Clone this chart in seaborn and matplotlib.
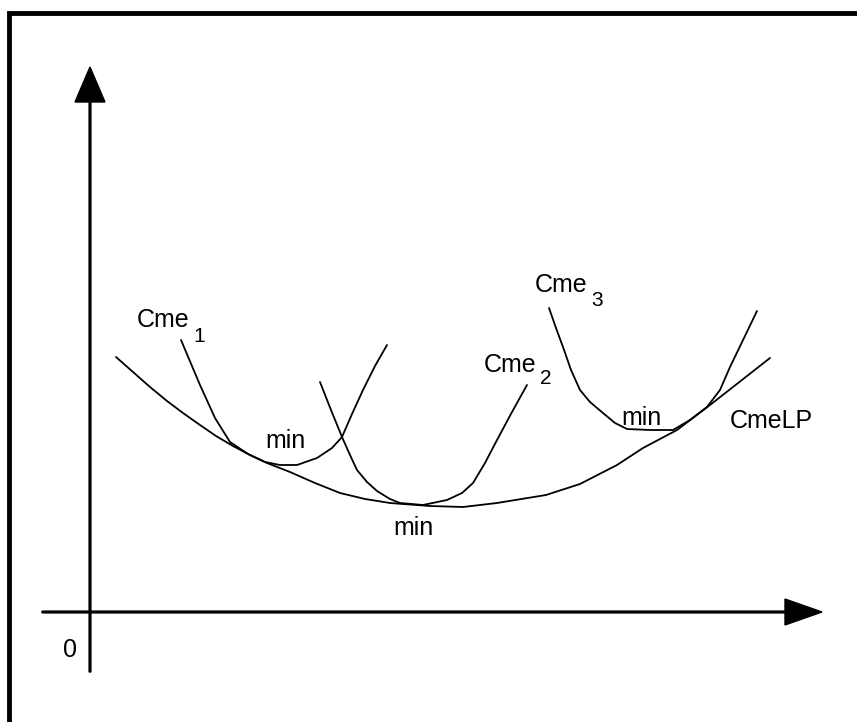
import pandas as pd
import matplotlib
matplotlib.use("Agg")
import matplotlib.pyplot as plt
import seaborn as sns

# long run average cost envelope (CmeLP) and three short run curves
lp_q = [2.6, 6.0, 7.7, 9.3, 11.0, 12.6, 14.3, 16.0, 17.7, 20.0, 22.5, 25.0, 27.5, 30.0, 34.0, 37.3, 40.7, 45.6, 49.0, 52.7, 55.3, 58.7, 62.0, 68.0]
lp_c = [25.5, 22.5, 21.1, 19.9, 18.7, 17.6, 16.6, 15.7, 14.9, 14.0, 12.9, 11.9, 11.3, 10.9, 10.6, 10.5, 10.9, 11.7, 12.8, 14.7, 16.4, 18.2, 20.7, 25.4]

cme1_q = [9.1, 11.0, 12.5, 14.0, 15.8, 17.5, 19.0, 20.7, 22.7, 24.2, 25.2, 26.2, 27.3, 28.5, 29.7]
cme1_c = [27.2, 22.7, 19.4, 17.0, 15.8, 15.0, 14.7, 14.7, 15.4, 16.4, 17.5, 19.8, 22.2, 24.6, 26.7]

cme2_q = [23.0, 24.1, 25.2, 26.0, 26.7, 27.7, 28.7, 30.0, 31.0, 33.3, 35.7, 37.2, 38.3, 39.5, 40.7, 42.2, 43.7]
cme2_c = [23.0, 20.2, 17.5, 15.7, 14.2, 13.0, 12.1, 11.3, 10.9, 10.7, 11.2, 11.9, 12.9, 14.9, 17.2, 20.0, 22.7]

cme3_q = [45.9, 46.6, 47.3, 48.1, 49.0, 50.0, 51.3, 52.5, 53.7, 56.0, 58.3, 60.0, 61.7, 63.0, 64.0, 65.4, 66.7]
cme3_c = [30.4, 28.4, 26.5, 24.2, 22.2, 21.0, 19.9, 18.9, 18.3, 18.2, 18.2, 19.2, 20.5, 22.2, 24.5, 27.4, 30.1]

curve_names = ["CmeLP", "Cme1", "Cme2", "Cme3"]

df = pd.concat([
    pd.DataFrame({"q": lp_q, "c": lp_c, "curve": "CmeLP"}),
    pd.DataFrame({"q": cme1_q, "c": cme1_c, "curve": "Cme1"}),
    pd.DataFrame({"q": cme2_q, "c": cme2_c, "curve": "Cme2"}),
    pd.DataFrame({"q": cme3_q, "c": cme3_c, "curve": "Cme3"}),
], ignore_index=True)

sns.set_theme(style="white")
plt.rcParams["font.family"] = ["Liberation Sans", "DejaVu Sans"]
plt.rcParams["text.color"] = "black"

fig = plt.figure(figsize=(8.57, 7.22), dpi=100)
ax = fig.add_axes([0, 0, 1, 1])

sns.lineplot(data=df, x="q", y="c", hue="curve", hue_order=curve_names,
             palette=["black"] * 4, estimator=None, sort=False,
             linewidth=1.3, legend=False, ax=ax)

# axes with arrow heads
ax.arrow(-4.8, 0, 78.0, 0, width=0.18, head_width=2.6, head_length=3.7,
         length_includes_head=True, color="black")
ax.arrow(0, -6, 0, 60.5, width=0.18, head_width=3.0, head_length=3.5,
         length_includes_head=True, color="black")

# frame (only top and left visible)
ax.plot([-8.1, -8.1, 80], [-15, 59.9, 59.9], color="black", lw=3.5,
        solid_joinstyle="miter", solid_capstyle="butt")

fs = 18
sub = 15
ax.text(4.7, 28.5, "Cme", fontsize=fs, ha="left", va="baseline")
ax.text(10.3, 27.0, "1", fontsize=sub, ha="left", va="baseline")
ax.text(39.4, 24.0, "Cme", fontsize=fs, ha="left", va="baseline")
ax.text(45.0, 22.8, "2", fontsize=sub, ha="left", va="baseline")
ax.text(44.5, 32.0, "Cme", fontsize=fs, ha="left", va="baseline")
ax.text(50.1, 30.6, "3", fontsize=sub, ha="left", va="baseline")
ax.text(64.0, 18.4, "CmeLP", fontsize=fs, ha="left", va="baseline")
ax.text(17.5, 16.4, "min", fontsize=fs, ha="left", va="baseline")
ax.text(30.3, 7.7, "min", fontsize=fs, ha="left", va="baseline")
ax.text(53.1, 18.7, "min", fontsize=fs, ha="left", va="baseline")
ax.text(-2.7, -4.5, "0", fontsize=fs, ha="left", va="baseline")

ax.set_xlim(-9, 76.7)
ax.set_ylim(-11, 61.2)
ax.axis("off")

fig.savefig("out.png", dpi=100, facecolor="white")
